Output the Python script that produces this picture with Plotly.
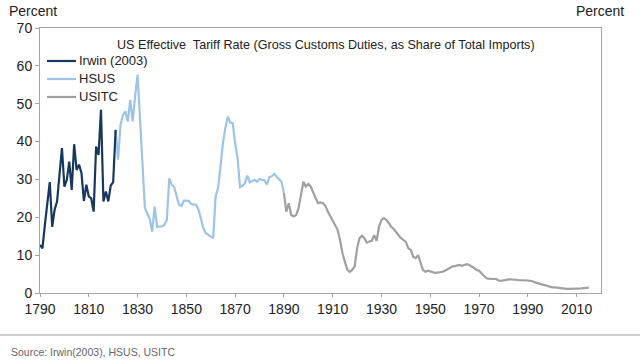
import plotly.graph_objects as go

# Irwin (2003), annual 1790-1821
irwin_years = list(range(1790, 1822))
irwin_vals = [12.7, 11.8, 18.0, 24.0, 29.3, 17.5, 22.0, 24.2, 31.0, 38.3,
              28.1, 29.9, 34.7, 27.2, 39.3, 32.5, 33.9, 31.7, 24.3, 28.6,
              25.5, 25.0, 21.5, 38.7, 36.5, 48.4, 24.2, 26.8, 24.2, 28.4,
              29.3, 43.1]

# HSUS, annual 1821-1890
hsus_years = list(range(1821, 1891))
hsus_vals = [43.1, 35.2, 44.4, 47.0, 48.0, 45.3, 51.0, 45.3, 52.0, 57.7,
             46.0, 33.0, 22.5, 21.0, 19.5, 16.2, 22.8, 17.5, 17.5, 17.6,
             18.0, 19.3, 30.3, 28.6, 28.0, 25.5, 23.3, 23.0, 24.4, 24.4,
             24.3, 23.5, 23.4, 23.3, 22.0, 19.3, 17.1, 15.8, 15.4, 15.0,
             14.5, 25.5, 27.7, 33.4, 39.6, 43.6, 46.6, 45.0, 44.9, 39.6,
             35.6, 28.0, 28.3, 29.0, 31.0, 29.2, 29.5, 29.9, 29.4, 30.1,
             29.9, 29.8, 28.6, 30.6, 30.8, 31.5, 30.8, 30.1, 29.4, 26.4]

# USITC, annual 1890-2015
usitc_years = list(range(1890, 2016))
usitc_vals = [26.4, 21.5, 23.7, 20.6, 20.2, 20.6, 22.4, 25.5, 29.4, 28.1,
              28.8, 28.1, 26.8, 25.1, 23.7, 23.9, 23.7, 23.0, 21.5, 20.2,
              18.9, 18.0, 16.7, 14.0, 10.5, 8.3, 6.1, 5.6, 6.1, 7.0,
              11.8, 14.5, 15.1, 14.5, 13.3, 13.6, 13.8, 15.3, 13.8, 17.5,
              19.3, 19.8, 19.3, 18.5, 17.5, 16.9, 16.0, 15.3, 14.5, 14.0,
              13.5, 11.8, 11.4, 9.6, 9.2, 10.0, 8.3, 6.1, 5.6, 5.9,
              5.7, 5.5, 5.3, 5.4, 5.5, 5.6, 5.9, 6.3, 6.7, 7.0,
              7.1, 7.3, 7.4, 7.2, 7.4, 7.6, 7.4, 7.1, 6.6, 6.1,
              5.9, 5.2, 4.5, 3.9, 3.8, 3.7, 3.7, 3.7, 3.3, 3.2,
              3.4, 3.5, 3.6, 3.6, 3.6, 3.5, 3.4, 3.4, 3.3, 3.3,
              3.3, 3.2, 3.1, 2.8, 2.6, 2.3, 2.1, 1.9, 1.7, 1.6,
              1.5, 1.5, 1.4, 1.3, 1.3, 1.2, 1.1, 1.1, 1.1, 1.2,
              1.2, 1.2, 1.2, 1.3, 1.3, 1.4]

series_names = ["Irwin (2003)", "HSUS", "USITC"]
series_colors = ["#17375E", "#9DC3E6", "#A0A0A0"]

x_ticks = list(range(1790, 2011, 20))
y_ticks = list(range(0, 71, 10))

FONT = "Liberation Sans, Arial, sans-serif"
TXT = "#222222"

# plot area in pixels: left 40, top 28, width 561, height 265
def px_x(p):
    return (p - 40) / 561

def px_y(p):
    return 1 - (p - 28) / 265

fig = go.Figure()
fig.add_trace(go.Scatter(x=hsus_years, y=hsus_vals, mode="lines", name=series_names[1],
                         line=dict(color=series_colors[1], width=2.2)))
fig.add_trace(go.Scatter(x=usitc_years, y=usitc_vals, mode="lines", name=series_names[2],
                         line=dict(color=series_colors[2], width=2.2)))
fig.add_trace(go.Scatter(x=irwin_years, y=irwin_vals, mode="lines", name=series_names[0],
                         line=dict(color=series_colors[0], width=2.2)))

fig.update_layout(
    width=640, height=360,
    margin=dict(l=40, r=39, t=28, b=67),
    paper_bgcolor="white", plot_bgcolor="white",
    font=dict(family=FONT, size=13, color=TXT),
    showlegend=False,
    xaxis=dict(range=[1790, 2020], tickvals=x_ticks, ticks="outside", ticklen=3,
               tickcolor="#A6A6A6", showgrid=False, zeroline=False,
               showline=True, linecolor="#A6A6A6", linewidth=1, mirror=True,
               tickfont=dict(size=14, color=TXT)),
    yaxis=dict(range=[0, 70], tickvals=y_ticks, ticks="outside", ticklen=4,
               tickcolor="#A6A6A6", showgrid=False, zeroline=False,
               showline=True, linecolor="#A6A6A6", linewidth=1, mirror=True,
               tickfont=dict(size=14, color=TXT)),
)

# legend (drawn as line samples + text)
for i, (nm, col) in enumerate(zip(series_names, series_colors)):
    yy = px_y(61 + 18 * i)
    fig.add_shape(type="line", xref="paper", yref="paper", x0=px_x(47), x1=px_x(76),
                  y0=yy, y1=yy, line=dict(color=col, width=2.2))
    fig.add_annotation(text=nm, xref="paper", yref="paper", x=px_x(77), y=yy,
                       xanchor="left", yanchor="middle", showarrow=False,
                       font=dict(size=13, color=TXT))

fig.add_annotation(text="US Effective\u00a0 Tariff Rate (Gross Customs Duties, as Share of Total Imports)",
                   xref="paper", yref="paper", x=px_x(326), y=px_y(45), xanchor="center", yanchor="middle",
                   showarrow=False, font=dict(size=12.6, color=TXT))
fig.add_annotation(text="Percent", xref="paper", yref="paper", x=px_x(7), y=px_y(11),
                   xanchor="left", yanchor="middle", showarrow=False, font=dict(size=14, color=TXT))
fig.add_annotation(text="Percent", xref="paper", yref="paper", x=px_x(626), y=px_y(11),
                   xanchor="right", yanchor="middle", showarrow=False, font=dict(size=14, color=TXT))
fig.add_shape(type="line", xref="paper", yref="paper", x0=px_x(0), x1=px_x(640),
              y0=px_y(335), y1=px_y(335), line=dict(color="#BFBFBF", width=1.5))
fig.add_annotation(text="Source: Irwin(2003), HSUS, USITC", xref="paper", yref="paper",
                   x=px_x(9), y=px_y(352), xanchor="left", yanchor="middle", showarrow=False,
                   font=dict(family="Liberation Sans Narrow, Arial Narrow, sans-serif", size=10.5, color="#666666"))

fig.write_html("out.html", config={"displayModeBar": False},
               post_script="document.body.style.margin='0';")
